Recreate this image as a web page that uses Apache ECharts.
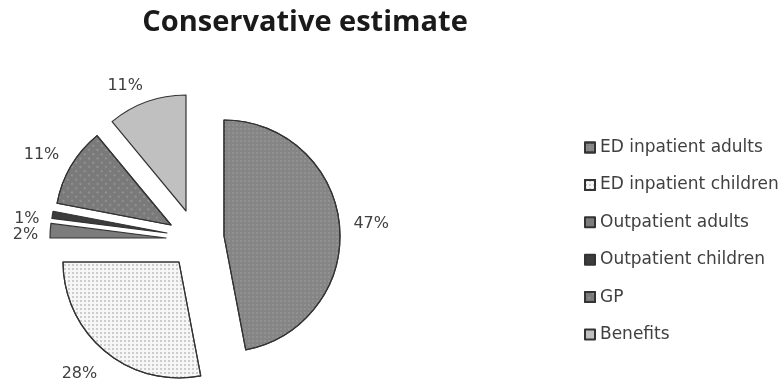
<!DOCTYPE html>
<html>
<head>
<meta charset="utf-8">
<title>Conservative estimate</title>
<script src="https://cdn.jsdelivr.net/npm/echarts@6/dist/echarts.min.js"></script>
<style>
  html, body { margin: 0; padding: 0; background: #fff; }
  #chart { width: 780px; height: 382px; }
</style>
</head>
<body>
<div id="chart"></div>
<script>
// chart data
const categories = ['ED inpatient adults', 'ED inpatient children', 'Outpatient adults', 'Outpatient children', 'GP', 'Benefits']
const values = [47, 28, 2, 1, 11, 11]

// every slice is pulled out of the pie by its own amount, so each one gets its own center (px)
const centers = [[224, 236], [179, 262], [166, 238], [167, 233], [171, 225], [186, 211]]
const labelLen = [9, 28, 7, 8, 8, 17]
const labelShift = [[0, 0], [15, 1], [0, 5], [0, 5], [0, -7], [7, 0]]

const sliceStyles = [
  { color: '#858585', decal: { symbol: 'circle', symbolSize: 0.7, color: 'rgba(255,255,255,0.3)', dashArrayX: [2, 2], dashArrayY: [2, 2] } },
  { color: '#f6f6f6', decal: { symbol: 'circle', symbolSize: 0.8, color: '#9a9a9a', dashArrayX: [2, 2], dashArrayY: [2, 2] } },
  { color: '#7c7c7c' },
  { color: '#3c3c3c' },
  { color: '#7a7a7a', decal: { symbol: 'circle', symbolSize: 0.6, color: 'rgba(255,255,255,0.75)', dashArrayX: [2, 4], dashArrayY: [2, 4], rotation: Math.PI / 4 } },
  { color: '#c0c0c0' }
]

// style for the slices a series only carries along
const hiddenStyle = {
  color: 'rgba(0,0,0,0)',
  borderWidth: 0,
  decal: { symbolSize: 0, color: 'rgba(0,0,0,0)' }
}

const chart = echarts.init(document.getElementById('chart'))

const series = categories.map((name, i) => ({
  name: name,
  type: 'pie',
  center: centers[i],
  radius: 116,
  startAngle: 90,
  avoidLabelOverlap: false,
  emphasis: { scale: false },
  itemStyle: Object.assign({ borderColor: '#333333', borderWidth: 1.2 }, sliceStyles[i]),
  label: {
    position: 'outside',
    formatter: '{d}%',
    color: '#404040',
    fontFamily: 'DejaVu Sans',
    fontSize: 16
  },
  labelLine: { show: false, length: labelLen[i], length2: 0 },
  labelLayout: { dx: labelShift[i][0], dy: labelShift[i][1] },
  // only slice i is visible in this series, the others just keep the angles right
  data: categories.map((c, j) => j === i
    ? { name: c, value: values[j] }
    : { name: c, value: values[j], itemStyle: hiddenStyle, label: { show: false } })
}))

chart.setOption({
  animation: false,
  title: {
    text: 'Conservative estimate',
    left: 300,
    top: 3,
    textAlign: 'center',
    textStyle: {
      color: '#1a1a1a',
      fontFamily: 'Open Sans',
      fontWeight: 'bold',
      fontSize: 29
    }
  },
  legend: {
    orient: 'vertical',
    left: 579,
    top: 134,
    icon: 'rect',
    itemWidth: 10,
    itemHeight: 10,
    itemGap: 20.4,
    data: categories,
    textStyle: {
      color: '#404040',
      fontFamily: 'DejaVu Sans',
      fontSize: 17
    }
  },
  series: series
})
</script>
</body>
</html>
